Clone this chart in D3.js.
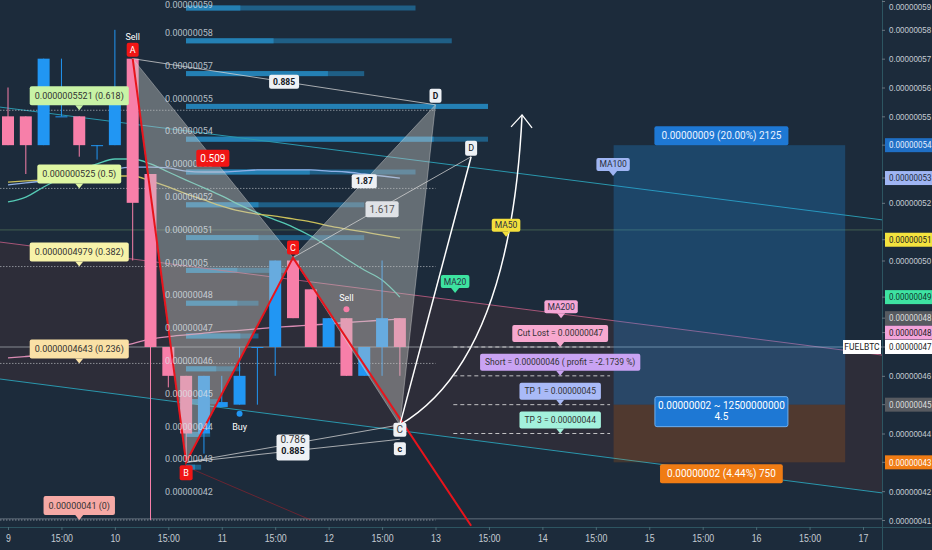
<!DOCTYPE html>
<html>
<head>
<meta charset="utf-8">
<script src="https://cdn.jsdelivr.net/npm/d3@7"></script>
<style>
  html, body { margin: 0; padding: 0; background: #1c2b3b; }
  svg { display: block; font-family: Roboto, "Noto Sans", sans-serif; }
</style>
</head>
<body>
<div id="chart"></div>
<script>
// ---- data (prices in units of 0.00000001 BTC, x in 4h bars from day 9) ----
const timeTickIdx = [0, 3, 6, 9, 12, 15, 18, 21, 24, 27, 30, 33, 36, 39, 42, 45, 48];
const timeTickLabels = ["9", "15:00", "10", "15:00", "11", "15:00", "12", "15:00", "13",
  "15:00", "14", "15:00", "15", "15:00", "16", "15:00", "17"];
const priceTicks = [41, 42, 43, 44, 45, 46, 47, 48, 49, 50, 51, 52, 53, 54, 55, 56, 57, 58, 59];

const candleOpen  = [55, 55, 54, 55, 55,   54,   54,   57, 53, 47,   46,   44,   44.92, 45, 47, 47, 50,   49, 47, 48, 46, 47, 48];
const candleClose = [54, 54, 57, 55, 54,   54,   55.5, 52, 47, 46,   44,   46,   45.09, 46, 47, 50, 48,   47, 48, 46, 47, 48, 47];
const candleHigh  = [56, 55, 57, 57, 55,   54,   58,   57, 53, 47,   46,   46,   46,    47, 47, 50, 50.1, 49, 48, 48, 47, 50, 48];
const candleLow   = [54, 53, 54, 55, 53.6, 53.5, 54,   50, 41, 45.6, 43.1, 43.3, 44.92, 45, 45, 46, 48,   47, 47, 46, 46, 46, 46];

const ma20  = [52.03, 52.20, 52.55, 52.86, 53.14, 53.35, 53.52, 53.52, 53.35, 53.07, 52.79, 52.52,
  52.24, 51.93, 51.65, 51.41, 51.16, 50.85, 50.47, 50.05, 49.67, 49.32, 48.73];
const ma50  = [52.72, 52.76, 52.79, 52.83, 52.86, 52.90, 52.93, 52.93, 52.76, 52.55, 52.31, 52.10,
  51.89, 51.72, 51.61, 51.54, 51.44, 51.34, 51.20, 51.09, 50.99, 50.88, 50.78];
const ma100 = [52.62, 52.69, 52.76, 52.83, 52.90, 53.00, 53.17, 53.24, 53.24, 53.21, 53.10, 53.07,
  53.07, 53.10, 53.14, 53.14, 53.14, 53.14, 53.10, 53.07, 53.00, 52.93, 52.86];
const ma200 = [46.62, 46.67, 46.72, 46.78, 46.84, 46.92, 47.00, 47.12, 47.28, 47.36, 47.42, 47.48,
  47.54, 47.58, 47.63, 47.68, 47.72, 47.76, 47.80, 47.85, 47.89, 47.93, 47.97];

const vpLabels = ["0.00000059", "0.00000058", "0.00000057", "0.00000055", "0.00000054", "0.00000053",
  "0.00000052", "0.00000051", "0.0000005", "0.00000048", "0.00000047", "0.00000046", "0.00000045",
  "0.00000044", "0.00000043", "0.00000042"];
const vpTotal  = [76, 88, 59, 100, 100, 76, 59, 59, 33, 24, 24, 18, 11, 8, 5, 0];
const vpBright = [18, 29, 47, 100, 82, 41, 24, 24, 17, 17, 18, 10, 6, 5, 3, 0];

const fibLevels = [55.21, 52.5, 49.79, 46.43, 41];
const fibTexts = ["0.0000005521 (0.618)", "0.000000525 (0.5)", "0.0000004979 (0.382)",
  "0.0000004643 (0.236)", "0.00000041 (0)"];

const channelUpper = [[-0.45, 55.32], [49.07, 51.41]];
const channelMid   = [[-0.45, 50.64], [49.07, 46.72]];
const channelLower = [[-0.45, 45.89], [49.07, 41.94]];
const levelLines = [47, 51.06, 41.04];

// harmonic pattern points [bar, price]
const ptA = [7, 57], ptB = [10, 43], ptC = [16, 50.1], ptD = [24, 55.4];
const ptD2 = [26, 53.6], ptC2 = [22, 44.3], ptC2b = [22, 43.8], ptE = [26, 40.8];
const arrowCtrl = [28.2, 46.55], arrowTip = [28.86, 55.05];

// trade plan
const tradeLevels = [47, 46, 45, 44];
const tradeTexts = ["Cut Lost = 0.00000047", "Short = 0.00000046 ( profit = -2.1739 %)",
  "TP 1 = 0.00000045", "TP 3 = 0.00000044"];
const posBars = [34, 47];
const posEntry = 45, posTarget = 54, posStop = 43;

const maTagTexts = ["MA20", "MA50", "MA100", "MA200"];
const maTagPts = [[25.1, 48.87], [27.96, 50.82], [33.97, 52.93], [31.05, 48.0]];

const axisTagValues = [54, 52.86, 50.72, 48.73, 48.0, 47.5, 47, 45, 43];
const axisTagTexts = ["0.00000054", "0.00000053", "0.00000051", "0.00000049", "0.00000048",
  "0.00000048", "0.00000047", "0.00000045", "0.00000043"];

// ---- styles ----
const bg = "#1c2b3b";
const upCol = "#2196f3", downCol = "#f77fa9";
const fibBg = ["#c8f3a6", "#dff7a3", "#f7f2a9", "#fae1a6", "#f6a9a5"];
const maCols = ["#55c9b4", "#c9bf5a", "#8fb0e6", "#d98bb3"];
const maTagBg = ["#3de3a0", "#f3df3c", "#9fb5f3", "#f5a6d6"];
const tradeBg = ["#f7a8cf", "#c9a3f3", "#a9baf7", "#a3f1dc"];
const axisTagBg = ["#1f6fc5", "#9fb5f3", "#f4e33e", "#3ee3a2", "#575a60", "#f3a3da", "#ffffff", "#575a60", "#f07c14"];
const axisTagFg = ["#e6efff", "#1c2b3b", "#222", "#11332a", "#dddddd", "#222", "#222", "#dddddd", "#fff"];
const sx = 0.84; // condensed axis lettering

const W = 932, H = 550, plotR = 882, plotB = 527;
const x = d3.scaleLinear().domain([0, 48]).range([8, 863]);
const y = d3.scaleLinear().domain([41, 59]).range([520, 1]);
const vpX = d3.scaleLinear().domain([0, 100]).range([186, 488]);
const vpY = d3.scaleLinear().domain([0, 15]).range([8, 500]);
const P = p => [x(p[0]), y(p[1])];

const svg = d3.select("#chart").append("svg").attr("width", W).attr("height", H);
svg.append("rect").attr("width", W).attr("height", H).attr("fill", bg);
svg.append("clipPath").attr("id", "clip").append("rect").attr("width", plotR).attr("height", plotB);
const g = svg.append("g").attr("clip-path", "url(#clip)");

// channel band
g.append("path")
  .attr("d", d3.line()([P(channelMid[0]), P(channelMid[1]), P(channelLower[1]), P(channelLower[0])]) + "Z")
  .attr("fill", "rgba(95,50,50,0.25)");

// volume profile rows
vpTotal.forEach((v, i) => {
  g.append("rect").attr("x", vpX(0)).attr("y", vpY(i) - 2.5)
    .attr("width", vpX(v) - vpX(0)).attr("height", 5).attr("fill", "#1f5f86");
  g.append("rect").attr("x", vpX(0)).attr("y", vpY(i) - 2.5)
    .attr("width", vpX(vpBright[i]) - vpX(0)).attr("height", 5).attr("fill", "#2480b4");
});

// channel lines
[[channelUpper, "#2a97ad"], [channelMid, "#a65577"], [channelLower, "#2a97ad"]].forEach(([c, col]) => {
  g.append("line").attr("x1", x(c[0][0])).attr("y1", y(c[0][1]))
    .attr("x2", x(c[1][0])).attr("y2", y(c[1][1]))
    .attr("stroke", col).attr("stroke-width", 1);
});

// horizontal levels
const levelCols = ["rgba(210,215,220,0.55)", "rgba(140,190,120,0.35)", "rgba(180,190,200,0.45)"];
levelLines.forEach((v, i) => {
  g.append("line").attr("x1", 0).attr("x2", plotR).attr("y1", y(v)).attr("y2", y(v))
    .attr("stroke", levelCols[i]).attr("stroke-width", 1);
});

// fib dotted lines
fibLevels.forEach(v => {
  g.append("line").attr("x1", x(-0.45)).attr("x2", x(24)).attr("y1", y(v)).attr("y2", y(v))
    .attr("stroke", "rgba(200,205,210,0.6)").attr("stroke-dasharray", "1.5,1.5");
});

// moving averages
const maLine = d3.line().x((d, i) => x(i)).y(d => y(d)).curve(d3.curveMonotoneX);
[ma20, ma50, ma100, ma200].forEach((s, k) => {
  g.append("path").datum(s).attr("d", maLine).attr("fill", "none")
    .attr("stroke", maCols[k]).attr("stroke-width", 1.3);
});

// candles
candleOpen.forEach((o, i) => {
  const c = candleClose[i];
  const col = c >= o ? upCol : downCol;
  g.append("line").attr("x1", x(i)).attr("x2", x(i))
    .attr("y1", y(candleHigh[i])).attr("y2", y(candleLow[i]))
    .attr("stroke", col).attr("stroke-width", 1);
  const top = y(Math.max(o, c)), bot = y(Math.min(o, c));
  g.append("rect").attr("x", x(i) - 6).attr("width", 12)
    .attr("y", top).attr("height", Math.max(1, bot - top)).attr("fill", col);
});

// pattern triangles
[[ptA, ptB, ptC], [ptC, ptD, ptC2]].forEach(tri => {
  g.append("path").attr("d", d3.line()(tri.map(P)) + "Z")
    .attr("fill", "rgba(200,200,195,0.42)").attr("stroke", "rgba(220,220,220,0.5)").attr("stroke-width", 0.8);
});

// position tool
g.append("rect").attr("x", x(posBars[0])).attr("width", x(posBars[1]) - x(posBars[0]))
  .attr("y", y(posTarget)).attr("height", y(posEntry) - y(posTarget))
  .attr("fill", "rgba(33,150,243,0.25)");
g.append("rect").attr("x", x(posBars[0])).attr("width", x(posBars[1]) - x(posBars[0]))
  .attr("y", y(posEntry)).attr("height", y(posStop) - y(posEntry))
  .attr("fill", "rgba(255,120,0,0.17)");

// thin pattern lines
[[ptA, ptD], [ptB, ptC2], [ptB, ptC2b], [ptC, ptD2]].forEach(([p, q]) => {
  g.append("line").attr("x1", x(p[0])).attr("y1", y(p[1])).attr("x2", x(q[0])).attr("y2", y(q[1]))
    .attr("stroke", "rgba(215,215,215,0.75)").attr("stroke-width", 1);
});
// red legs
g.append("path").attr("d", d3.line()([ptA, ptB, ptC, ptE].map(P)))
  .attr("fill", "none").attr("stroke", "#e8141c").attr("stroke-width", 2);
g.append("line").attr("x1", x(10.2)).attr("y1", y(42.8)).attr("x2", x(17)).attr("y2", y(41))
  .attr("stroke", "rgba(200,30,40,0.45)").attr("stroke-width", 1);
// white projections
g.append("line").attr("x1", x(ptC2[0])).attr("y1", y(ptC2[1])).attr("x2", x(ptD2[0])).attr("y2", y(ptD2[1]))
  .attr("stroke", "#fff").attr("stroke-width", 1.5);
const ap = d3.path();
ap.moveTo(...P(ptC2));
ap.quadraticCurveTo(...P(arrowCtrl), ...P(arrowTip));
g.append("path").attr("d", ap.toString()).attr("fill", "none").attr("stroke", "#fff").attr("stroke-width", 1.5);
const [tx, ty] = P(arrowTip);
g.append("path").attr("d", `M${tx - 11},${ty + 12}L${tx},${ty}L${tx + 10},${ty + 13}`)
  .attr("fill", "none").attr("stroke", "#fff").attr("stroke-width", 1.3);

// trade dashed lines
tradeLevels.forEach(v => {
  g.append("line").attr("x1", x(25)).attr("x2", x(33.8)).attr("y1", y(v)).attr("y2", y(v))
    .attr("stroke", "rgba(230,230,230,0.8)").attr("stroke-dasharray", "4,3");
});

// volume profile labels
vpLabels.forEach((t, i) => {
  g.append("text").attr("x", 165).attr("y", Math.max(5, vpY(i) - 8)).attr("dy", "0.35em")
    .attr("font-size", 9).attr("fill", "rgba(220,225,232,0.8)").text(t);
});

// ---- labels ----
function tag(parent, cx, cy, str, o) {
  const gg = parent.append("g");
  const rect = gg.append("rect");
  const t = gg.append("text").text(str).attr("font-size", o.size || 8.5)
    .attr("font-weight", o.weight || 400).attr("fill", o.fg).attr("text-anchor", "middle");
  const w = o.w || t.node().getComputedTextLength() + 2 * (o.padX == null ? 4 : o.padX);
  const h = o.h || 15;
  const gap = o.gap == null ? (o.pointer ? 5 : 2) : o.gap;
  let top;
  if (o.pos === "above") top = cy - gap - h;
  else if (o.pos === "below") top = cy + gap;
  else top = cy - h / 2;
  rect.attr("x", cx - w / 2).attr("y", top).attr("width", w).attr("height", h)
    .attr("rx", 2).attr("fill", o.bg);
  if (o.stroke) rect.attr("stroke", o.stroke).attr("stroke-width", 1);
  t.attr("x", cx).attr("y", top + h / 2).attr("dy", "0.35em");
  if (o.pointer) {
    gg.insert("path", "text").attr("d", `M${cx - 4},${top + h}L${cx + 4},${top + h}L${cx},${cy}Z`).attr("fill", o.bg);
  }
  return gg;
}

// fib labels
fibLevels.forEach((v, i) => {
  tag(g, x(4), y(v), fibTexts[i], { bg: fibBg[i], fg: "#333", pos: "above", pointer: true, h: 19, size: 9, padX: 5 });
});

// pattern point labels
const red = "#f01515";
g.append("text").attr("x", x(ptA[0])).attr("y", y(ptA[1]) - 19).attr("text-anchor", "middle")
  .attr("font-size", 9).attr("fill", "#fff").text("Sell");
tag(g, x(ptA[0]), y(ptA[1]), "A", { bg: red, fg: "#fff", pos: "above", h: 14, w: 12, gap: 2, size: 9 });
tag(g, x(ptB[0]), y(ptB[1]), "B", { bg: red, fg: "#fff", pos: "below", h: 15, w: 13, gap: 3, size: 9 });
tag(g, x(ptC[0]), y(ptC[1]), "C", { bg: red, fg: "#fff", pos: "above", h: 14, w: 12, gap: 3, size: 9 });
tag(g, x(ptD[0]), y(ptD[1]), "D", { bg: "#eef1f5", fg: "#131722", pos: "above", h: 14, w: 12, gap: 2, size: 8.5, weight: 700 });
tag(g, x(ptD2[0]), y(ptD2[1]), "D", { bg: "#eef1f5", fg: "#131722", pos: "above", h: 15, w: 12, gap: 1, size: 9 });
tag(g, x(ptC2[0]), y(ptC2[1]) + 5, "C", { bg: "#eef1f5", fg: "#444", h: 14, w: 13, size: 10 });
tag(g, x(ptC2[0]), y(ptC2[1]) + 24, "c", { bg: "#eef1f5", fg: "#131722", h: 13, w: 12, size: 9, weight: 700 });

// ratio labels
const mid = (p, q, t) => [x(p[0] + (q[0] - p[0]) * t), y(p[1] + (q[1] - p[1]) * t)];
let m = mid(ptA, ptD, 0.5);
tag(g, m[0], m[1], "0.885", { bg: "#eef1f5", fg: "#131722", h: 14, size: 8.5, weight: 700, padX: 4 });
m = mid(ptA, ptC, 0.5);
tag(g, m[0], m[1], "0.509", { bg: red, fg: "#fff", h: 17, size: 10, padX: 4 });
m = mid(ptC, ptD, 0.5);
tag(g, m[0], m[1], "1.87", { bg: "#eef1f5", fg: "#131722", h: 14, size: 8.5, weight: 700, padX: 4 });
m = mid(ptC, ptD2, 0.5);
tag(g, m[0], m[1] + 2, "1.617", { bg: "#dfe2e6", fg: "#555", h: 16, size: 10, padX: 4 });
m = mid(ptB, ptC2, 0.5);
tag(g, m[0], m[1] + 4, "", { bg: "#eef1f5", fg: "#333", h: 26, w: 33 });
g.append("text").attr("x", m[0]).attr("y", m[1] - 1).attr("text-anchor", "middle")
  .attr("font-size", 10).attr("fill", "#333").text("0.786");
g.append("text").attr("x", m[0]).attr("y", m[1] + 10).attr("text-anchor", "middle")
  .attr("font-size", 9).attr("font-weight", 700).attr("fill", "#131722").text("0.885");

// buy / sell signals
g.append("circle").attr("cx", x(13)).attr("cy", y(candleLow[13]) + 9).attr("r", 3).attr("fill", upCol);
g.append("text").attr("x", x(13)).attr("y", y(candleLow[13]) + 25).attr("text-anchor", "middle")
  .attr("font-size", 9).attr("fill", "#fff").text("Buy");
g.append("circle").attr("cx", x(19)).attr("cy", y(candleHigh[19]) - 9).attr("r", 3).attr("fill", downCol);
g.append("text").attr("x", x(19)).attr("y", y(candleHigh[19]) - 17).attr("text-anchor", "middle")
  .attr("font-size", 9).attr("fill", "#fff").text("Sell");

// MA tags
maTagPts.forEach((p, i) => {
  tag(g, x(p[0]), y(p[1]), maTagTexts[i], { bg: maTagBg[i], fg: "#2a3040", pos: "above", pointer: true, h: 13, size: 8.5, padX: 3 });
});

// trade tags
tradeLevels.forEach((v, i) => {
  tag(g, x(31), y(v), tradeTexts[i], { bg: tradeBg[i], fg: "#333", pos: "above", pointer: true, h: 17, size: 8.5, padX: 5 });
});

// position tags
const posMid = x((posBars[0] + posBars[1]) / 2) - 8;
tag(g, posMid, y(posTarget), "0.00000009 (20.00%) 2125", { bg: "#1e78d4", fg: "#eaf2ff", pos: "above", h: 19, gap: 0, size: 10, padX: 7 });
tag(g, posMid, y(posStop), "0.00000002 (4.44%) 750", { bg: "#f07c14", fg: "#fff", pos: "below", h: 19, gap: 2, size: 10, padX: 7 });
tag(g, posMid, y(posEntry) + 7, "", { bg: "#1e78d4", fg: "#fff", h: 30, w: 133, stroke: "#6fb0f0" });
g.append("text").attr("x", posMid).attr("y", y(posEntry) + 4).attr("text-anchor", "middle")
  .attr("font-size", 10).attr("fill", "#fff").text("0.00000002 ~ 12500000000");
g.append("text").attr("x", posMid).attr("y", y(posEntry) + 15).attr("text-anchor", "middle")
  .attr("font-size", 10).attr("fill", "#fff").text("4.5");

// ---- axes ----
const axisCol = "#2d5561", tickText = "#c5cbd3";
svg.append("line").attr("x1", plotR + 0.5).attr("x2", plotR + 0.5).attr("y1", 0).attr("y2", H)
  .attr("stroke", axisCol);
svg.append("line").attr("x1", 0).attr("x2", W).attr("y1", plotB + 0.5).attr("y2", plotB + 0.5)
  .attr("stroke", axisCol);

// plain price ticks, skipping those hidden under a price tag
const freeTicks = priceTicks.filter(v => axisTagValues.every(t => Math.abs(y(t) - y(v)) > 10));
const yAxis = svg.append("g").attr("transform", `translate(${plotR},0)`)
  .call(d3.axisRight(y).tickValues(freeTicks).tickSize(3).tickFormat(d => "0.000000" + d));
yAxis.select(".domain").remove();
yAxis.selectAll("line").attr("stroke", "#6a7580");
yAxis.selectAll("text").attr("fill", tickText).attr("font-size", 9.5)
  .attr("x", 7 / sx).attr("transform", `scale(${sx},1)`)
  .attr("y", d => Math.max(0, 6 - y(d)));

const xAxis = svg.append("g").attr("transform", `translate(0,${plotB})`)
  .call(d3.axisBottom(x).tickValues(timeTickIdx).tickSize(3).tickFormat((d, i) => timeTickLabels[i]));
xAxis.select(".domain").remove();
xAxis.selectAll("line").attr("stroke", "#4a6a75");
xAxis.selectAll("text").attr("fill", tickText).attr("font-size", 10.5).attr("y", 8)
  .attr("transform", `scale(${sx},1)`);

// right axis price tags
axisTagValues.forEach((v, i) => {
  const yy = y(v);
  svg.append("line").attr("x1", plotR).attr("x2", plotR + 3).attr("y1", yy).attr("y2", yy)
    .attr("stroke", "#6a7580");
  svg.append("rect").attr("x", plotR + 3).attr("y", yy - 7).attr("width", W - plotR - 3).attr("height", 14)
    .attr("fill", axisTagBg[i]);
  svg.append("text").attr("x", (plotR + 7) / sx).attr("y", yy).attr("dy", "0.35em")
    .attr("transform", `scale(${sx},1)`)
    .attr("font-size", 9.5).attr("fill", axisTagFg[i]).text(axisTagTexts[i]);
});
// symbol tag
svg.append("rect").attr("x", 843).attr("y", y(47) - 7).attr("width", 38).attr("height", 14).attr("fill", "#fff");
svg.append("text").attr("x", 862).attr("y", y(47)).attr("dy", "0.35em").attr("text-anchor", "middle")
  .attr("font-size", 8.5).attr("fill", "#222").text("FUELBTC");
</script>
</body>
</html>
